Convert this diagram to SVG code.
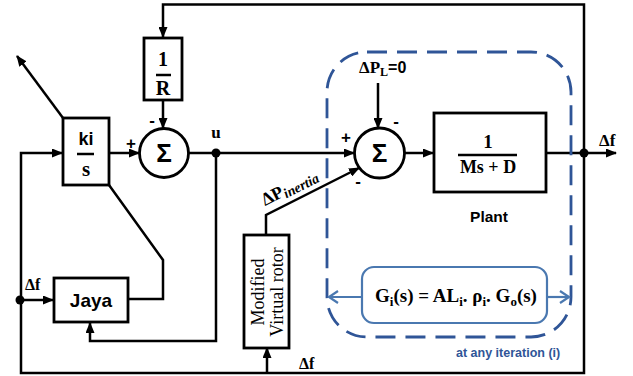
<svg xmlns="http://www.w3.org/2000/svg" width="633" height="376" viewBox="0 0 633 376">
<style>
.ln{fill:none;stroke:#000;stroke-width:2.5}
.box{fill:#fff;stroke:#000;stroke-width:2.8}
.bar{stroke:#000;stroke-width:2.5}
.m{font-family:"Liberation Serif","DejaVu Serif",serif;font-weight:bold;fill:#000}
.s{font-family:"Liberation Sans","DejaVu Sans",sans-serif;font-weight:bold;fill:#000}
.r{font-family:"Liberation Serif","DejaVu Serif",serif;fill:#000}
.blue{fill:none;stroke:#2f5597;stroke-width:2.8;stroke-dasharray:20 10}
.bl{fill:none;stroke:#4a78b0;stroke-width:2.2}
</style>
<defs>
<marker id="ah" markerUnits="userSpaceOnUse" markerWidth="11" markerHeight="9" refX="10" refY="4.5" orient="auto">
<path d="M0,0 L11,4.5 L0,9 z" fill="#000"/>
</marker>
<marker id="bh" markerUnits="userSpaceOnUse" markerWidth="12" markerHeight="14" refX="10" refY="7" orient="auto">
<path d="M1,1 L10,7 L1,13" fill="none" stroke="#4a78b0" stroke-width="2.2"/>
</marker>
</defs>
<rect width="633" height="376" fill="#fff"/>

<g id="connectors">
<path class="ln" d="M584,153 V4.5 H163 V37" marker-end="url(#ah)"/>
<path class="ln" d="M584,153 V373 H21 V153 H62" marker-end="url(#ah)"/>
<path class="ln" d="M21,300 H53" marker-end="url(#ah)"/>
<path class="ln" d="M546,153 H616" marker-end="url(#ah)"/>
<path class="ln" d="M163,100 V128" marker-end="url(#ah)"/>
<path class="ln" d="M109,153 H139" marker-end="url(#ah)"/>
<path class="ln" d="M189,153 H354" marker-end="url(#ah)"/>
<path class="ln" d="M216,153 V341 H90 V323" marker-end="url(#ah)"/>
<path class="ln" d="M63,118 L17,56" marker-end="url(#ah)"/>
<path class="ln" d="M109,185 L163,260 V299 H128"/>
<path class="ln" d="M267,373 V348" marker-end="url(#ah)"/>
<path class="ln" d="M266,235 V215 L359,168" marker-end="url(#ah)"/>
<path class="ln" d="M378,83 V128" marker-end="url(#ah)"/>
<path class="ln" d="M405,153 H433" marker-end="url(#ah)"/>
<circle cx="216" cy="153" r="4.5" fill="#000"/>
<circle cx="584" cy="153" r="4.5" fill="#000"/>
<circle cx="20" cy="300" r="4.5" fill="#000"/>
</g>

<g id="plant-region">
<rect class="blue" x="327" y="52" width="244" height="285" rx="40"/>
<path class="bl" d="M362,297 H329" marker-end="url(#bh)"/>
<path class="bl" d="M547,297 H569" marker-end="url(#bh)"/>
<text x="456" y="357" font-family="Liberation Sans, DejaVu Sans, sans-serif" font-weight="bold" font-size="12.5" fill="#2f5597">at any iteration (i)</text>
</g>

<g id="formula">
<rect x="362" y="267" width="185" height="56" rx="12" fill="#fff" stroke="#4a78b0" stroke-width="2.2"/>
<text class="m" x="456" y="302" font-size="19" text-anchor="middle">G<tspan font-size="13" dy="4">i</tspan><tspan dy="-4">(s) = AL</tspan><tspan font-size="13" dy="4">i</tspan><tspan dy="-4">. ρ</tspan><tspan font-size="13" dy="4">i</tspan><tspan dy="-4">. G</tspan><tspan font-size="13" dy="4">o</tspan><tspan dy="-4">(s)</tspan></text>
</g>

<g id="gain-R">
<rect class="box" x="144" y="38" width="38" height="62"/>
<text class="m" x="163" y="66" font-size="20" text-anchor="middle">1</text>
<line class="bar" x1="156" y1="75" x2="171" y2="75"/>
<text class="m" x="163" y="95" font-size="20" text-anchor="middle">R</text>
</g>

<g id="integrator">
<rect class="box" x="63" y="118" width="46" height="67"/>
<text class="s" x="86" y="145" font-size="18" text-anchor="middle">ki</text>
<line class="bar" x1="77" y1="154" x2="94" y2="154"/>
<text class="m" x="86" y="176" font-size="21" text-anchor="middle">s</text>
</g>

<g id="sum1">
<circle cx="164" cy="153" r="24.5" fill="#fff" stroke="#000" stroke-width="2.8"/>
<text class="s" x="164" y="162" font-size="26" text-anchor="middle">Σ</text>
<text class="s" x="131" y="149" font-size="17" text-anchor="middle">+</text>
<text class="s" x="152" y="126" font-size="17" text-anchor="middle">-</text>
<text class="m" x="216" y="138" font-size="17" text-anchor="middle">u</text>
</g>

<g id="sum2">
<circle cx="379.5" cy="153" r="25" fill="#fff" stroke="#000" stroke-width="2.8"/>
<text class="s" x="379.5" y="162" font-size="26" text-anchor="middle">Σ</text>
<text class="s" x="346" y="143" font-size="17" text-anchor="middle">+</text>
<text class="s" x="396" y="127" font-size="17" text-anchor="middle">-</text>
<text class="s" x="358" y="187" font-size="17" text-anchor="middle">-</text>
<text class="m" x="359" y="73" font-size="17">ΔP<tspan font-size="12" dy="3">L</tspan><tspan class="s" font-size="16" dy="-3">=0</tspan></text>
</g>

<g id="plant">
<rect class="box" x="434" y="113" width="112" height="79"/>
<text class="m" x="488" y="148" font-size="19" text-anchor="middle">1</text>
<line class="bar" x1="458" y1="155" x2="517" y2="155"/>
<text class="m" x="488" y="173" font-size="18" text-anchor="middle">Ms + D</text>
<text class="s" x="489" y="222" font-size="15.5" text-anchor="middle">Plant</text>
</g>

<g id="jaya">
<rect class="box" x="54" y="278" width="74" height="44"/>
<text class="s" x="91" y="307" font-size="19" text-anchor="middle">Jaya</text>
</g>

<g id="virtual-rotor">
<rect class="box" x="244" y="235" width="45" height="113"/>
<g transform="translate(0,292) rotate(-90)">
<text class="r" x="0" y="264" font-size="18" text-anchor="middle">Modified</text>
<text class="r" x="0" y="283" font-size="18" text-anchor="middle">Virtual rotor</text>
</g>
</g>

<g id="labels">
<text class="m" x="599" y="146" font-size="17">Δf</text>
<text class="m" x="25" y="290" font-size="16">Δf</text>
<text class="m" x="299" y="369" font-size="16">Δf</text>
<text class="m" transform="translate(265,206) rotate(-27)" font-size="18">ΔP<tspan font-style="italic" font-size="14" dy="3">inertia</tspan></text>
</g>
</svg>
